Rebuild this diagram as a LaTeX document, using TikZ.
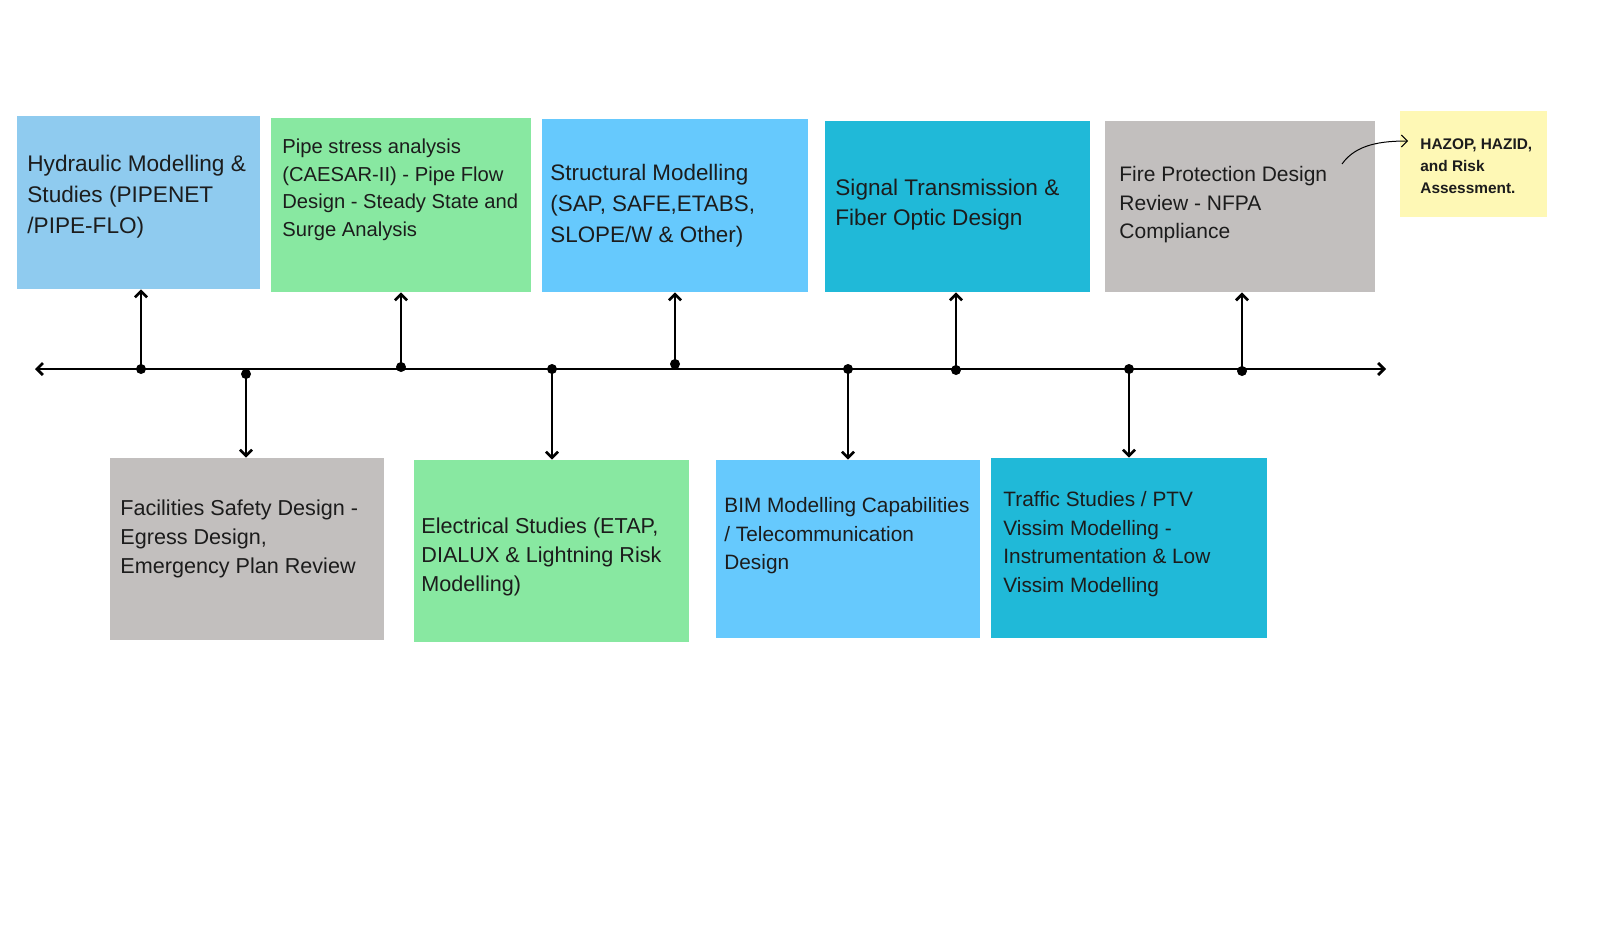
\documentclass[tikz,border=0pt]{standalone}
\usepackage{fontspec}
\setmainfont{Liberation Sans}
\usetikzlibrary{arrows.meta,fit}

\definecolor{hydroblue}{HTML}{8FCBEF}
\definecolor{pipegreen}{HTML}{88E8A1}
\definecolor{skyblue}{HTML}{66C9FD}
\definecolor{tealblue}{HTML}{20B9D8}
\definecolor{stonegray}{HTML}{C2BFBE}
\definecolor{notepad}{HTML}{FEF8B5}
\definecolor{ink}{HTML}{1C1C1C}

\tikzset{
  card/.style={fill=#1, draw=none, inner sep=0pt},
  cardtext/.style={anchor=west, align=left, text=ink, inner sep=0pt},
  dot/.style={circle, fill=black, inner sep=0pt, minimum size=5pt},
  link/.style={line width=1.35pt, -{Straight Barb[length=3pt,width=6pt]}},
}

\begin{document}
\begin{tikzpicture}[x=0.5pt, y=-0.5pt]
\useasboundingbox (0,0) rectangle (1600,950);

% upper row
\node[card=hydroblue, fit={(17,116) (260,289)}] (hydraulic) {};
\node[card=pipegreen, fit={(271,118) (531,292)}] (pipestress) {};
\node[card=skyblue, fit={(542,119) (808,292)}] (structural) {};
\node[card=tealblue, fit={(825,121) (1090,292)}] (signal) {};
\node[card=stonegray, fit={(1105,121) (1375,292)}] (fire) {};
\node[card=notepad, fit={(1400,111) (1547,217)}] (hazop) {};

% lower row
\node[card=stonegray, fit={(110,458) (384,640)}] (facilities) {};
\node[card=pipegreen, fit={(414,460) (689,642)}] (electrical) {};
\node[card=skyblue, fit={(716,460) (980,638)}] (bim) {};
\node[card=tealblue, fit={(991,458) (1267,638)}] (traffic) {};

\node[cardtext, font=\fontsize{11.3}{15.5}\selectfont] (hydraulicText) at (27,197)
  {Hydraulic Modelling \&\\Studies (PIPENET\\/PIPE-FLO)};
\node[cardtext, font=\fontsize{10.1}{13.75}\selectfont] (pipestressText) at (282,190)
  {Pipe stress analysis\\(CAESAR-II) - Pipe Flow\\Design - Steady State and\\Surge Analysis};
\node[cardtext, font=\fontsize{11.2}{15.5}\selectfont] (structuralText) at (550,206)
  {Structural Modelling\\(SAP, SAFE,ETABS,\\SLOPE/W \& Other)};
\node[cardtext, font=\fontsize{11.3}{15}\selectfont] (signalText) at (835,205)
  {Signal Transmission \&\\Fiber Optic Design};
\node[cardtext, font=\fontsize{10.5}{14.25}\selectfont] (fireText) at (1119,205)
  {Fire Protection Design\\Review - NFPA\\Compliance};
\node[cardtext, font=\bfseries\fontsize{7.7}{11}\selectfont] (hazopText) at (1420,166)
  {HAZOP, HAZID,\\and Risk\\Assessment.};

\node[cardtext, font=\fontsize{10.8}{14.5}\selectfont] (facilitiesText) at (120,539)
  {Facilities Safety Design -\\Egress Design,\\Emergency Plan Review};
\node[cardtext, font=\fontsize{10.8}{14.5}\selectfont] (electricalText) at (421,557)
  {Electrical Studies (ETAP,\\DIALUX \& Lightning Risk\\Modelling)};
\node[cardtext, font=\fontsize{10.4}{14.25}\selectfont] (bimText) at (724,536)
  {BIM Modelling Capabilities\\/ Telecommunication\\Design};
\node[cardtext, font=\fontsize{10.4}{14.25}\selectfont] (trafficText) at (1003,544)
  {Traffic Studies / PTV\\Vissim Modelling -\\Instrumentation \& Low\\Vissim Modelling};

% timeline
\coordinate (lineStart) at (35,369);
\coordinate (lineEnd) at (1386,369);
\draw[line width=1.35pt, {Straight Barb[length=3pt,width=6pt]}-{Straight Barb[length=3pt,width=6pt]}] (lineStart) -- (lineEnd);

\node[dot] (dHydraulic) at (141,369) {};
\node[dot] (dFacilities) at (246,374) {};
\node[dot] (dPipe) at (401,367) {};
\node[dot] (dElectrical) at (552,369) {};
\node[dot] (dStructural) at (675,364) {};
\node[dot] (dBim) at (848,369) {};
\node[dot] (dSignal) at (956,370) {};
\node[dot] (dTraffic) at (1129,369) {};
\node[dot] (dFire) at (1242,371) {};

\draw[link] (dHydraulic.center) -- (dHydraulic |- hydraulic.south);
\draw[link] (dFacilities.center) -- (dFacilities |- facilities.north);
\draw[link] (dPipe.center) -- (dPipe |- pipestress.south);
\draw[link] (dElectrical.center) -- (dElectrical |- electrical.north);
\draw[link] (dStructural.center) -- (dStructural |- structural.south);
\draw[link] (dBim.center) -- (dBim |- bim.north);
\draw[link] (dSignal.center) -- (dSignal |- signal.south);
\draw[link] (dTraffic.center) -- (dTraffic |- traffic.north);
\draw[link] (dFire.center) -- (dFire |- fire.south);

% note arrow
\coordinate (noteStart) at (1342,164);
\coordinate (noteEnd) at (1408,141);
\draw[line width=0.5pt, -{Straight Barb[length=3pt,width=6pt]}] (noteStart) .. controls (1356,144) and (1382,141) .. (noteEnd);
\end{tikzpicture}
\end{document}
